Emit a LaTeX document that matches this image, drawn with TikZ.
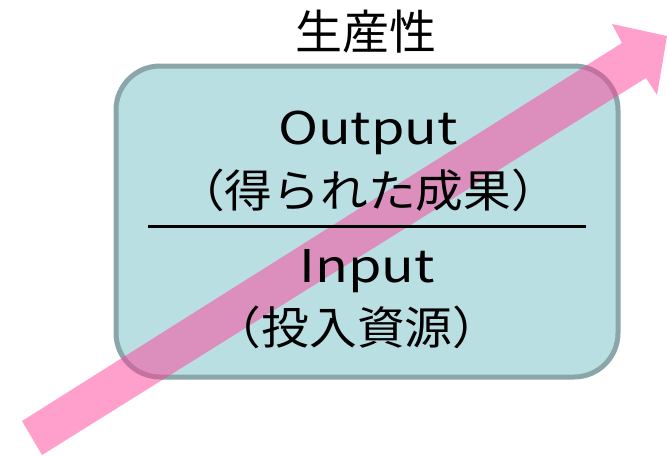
\documentclass[tikz,border=0pt]{standalone}
\usepackage{fontspec}
\setmainfont{Noto Sans CJK JP}
\begin{document}
\begin{tikzpicture}[x=1pt,y=-1pt,
  boxstyle/.style={draw=boxline,line width=5pt,fill=boxfill,rounded corners=44pt},
  txt/.style={inner sep=0pt,font=\fontsize{45}{52}\selectfont,text=black},
  arrowshape/.style={fill=arrowpink,fill opacity=0.5,draw=none}]
\definecolor{boxline}{HTML}{8AA6A8}
\definecolor{boxfill}{HTML}{BADFE3}
\definecolor{arrowpink}{HTML}{FF4199}
\useasboundingbox (0,0) rectangle (667,456);
\draw[boxstyle] (116,66) rectangle (618,377);
\coordinate (t1) at (22,421);
\coordinate (t2) at (42,455);
\coordinate (s1) at (622,43);
\coordinate (h1) at (612,24);
\coordinate (tip) at (667,36);
\coordinate (h2) at (657,95);
\coordinate (s2) at (646,78);
\fill[arrowshape] (t1) -- (s1) -- (h1) -- (tip) -- (h2) -- (s2) -- (t2) -- cycle;
\node[txt,font=\fontsize{47}{52}\selectfont] (title) at (366,32) {生産性};
\node[txt] (out) at (368,133) {\scalebox{1.2}[1]{Output}};
\node[txt] (outj) at (368,190) {\scalebox{1.06}[1]{（得られた成果）}};
\coordinate (ll) at (148,226);
\coordinate (lr) at (586,226);
\draw[line width=3pt] (ll) -- (lr);
\node[txt] (in) at (367,271) {\scalebox{1.2}[1]{Input}};
\node[txt] (inj) at (357,327) {\scalebox{1.06}[1]{（投入資源）}};
\end{tikzpicture}
\end{document}
